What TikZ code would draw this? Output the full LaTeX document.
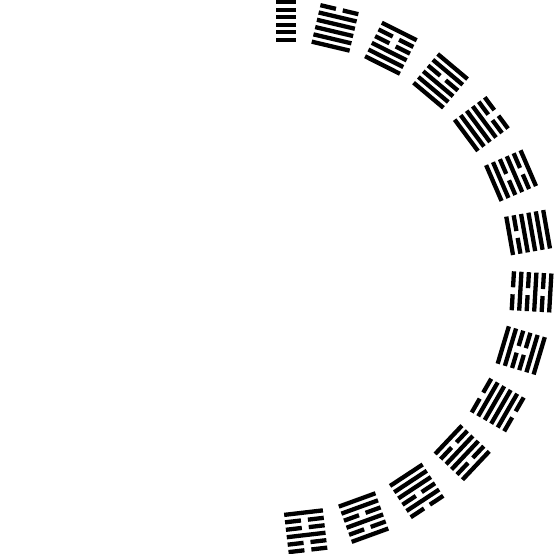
\documentclass[tikz,border=0pt]{standalone}
\newcommand{\hexg}[2]{%
  \begin{scope}[shift={(276,277)},rotate=#1-90,shift={(0,256)}]
    \foreach \b [count=\k] in {#2} {
      \pgfmathsetmacro\yy{18.75-(\k-1)*7.5}
      \ifnum\b=1
        \fill (-19.5,\yy-2.15) rectangle (19.5,\yy+2.15);
      \else
        \fill (-19.5,\yy-2.15) rectangle (-3.5,\yy+2.15);
        \fill (3.5,\yy-2.15) rectangle (19.5,\yy+2.15);
      \fi
    }
  \end{scope}}
\begin{document}
\begin{tikzpicture}[x=1pt,y=1pt]
  \useasboundingbox (0,0) rectangle (554,554);
  \clip (276,0) rectangle (554,554);
  \hexg{90}{1,1,1,1,1,1}
  \hexg{76.667}{0,1,1,1,1,1}
  \hexg{63.333}{1,0,0,1,1,1}
  \hexg{50}{1,1,0,1,1,1}
  \hexg{36.667}{0,0,1,1,1,1}
  \hexg{23.333}{1,0,1,0,1,1}
  \hexg{10}{1,1,1,1,0,1}
  \hexg{-3.333}{1,0,1,0,1,0}
  \hexg{-16.667}{1,1,0,0,1,1}
  \hexg{-30}{0,1,1,1,1,0}
  \hexg{-43.333}{1,0,1,1,0,1}
  \hexg{-56.667}{0,1,0,1,1,1}
  \hexg{-70}{1,0,1,0,1,1}
  \hexg{-83.333}{0,0,1,0,0,1}
\end{tikzpicture}
\end{document}
